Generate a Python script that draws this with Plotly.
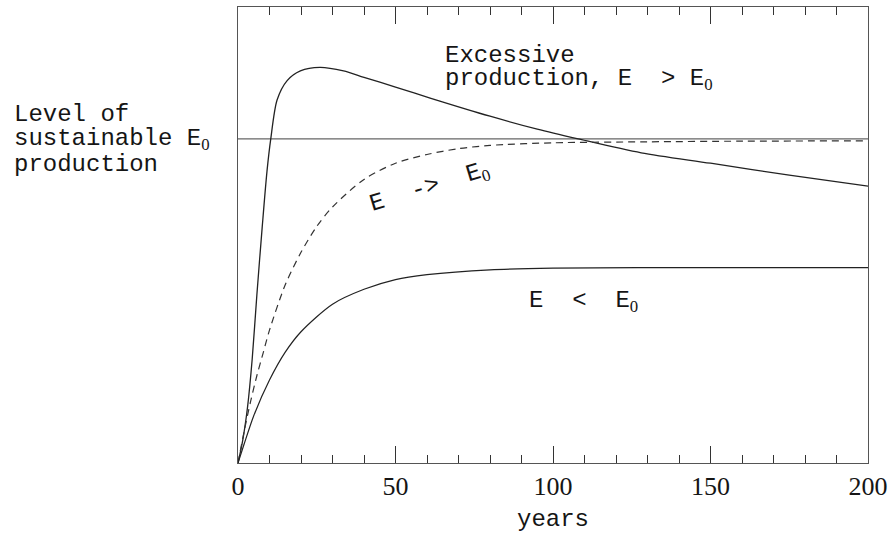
import plotly.graph_objects as go

# ---- data ----
years_excess = [0, 1.5, 3, 4.5, 6, 7.7, 9.2, 10.4, 12.4, 15.6, 19.8, 26, 33.5, 40, 50, 61, 80, 95, 108, 128, 150, 175, 200]
E_excess = [0, 0.07, 0.17, 0.32, 0.52, 0.73, 0.9, 1.0, 1.12, 1.18, 1.21, 1.221, 1.21, 1.19, 1.16, 1.126, 1.07, 1.03, 1.0, 0.957, 0.925, 0.888, 0.854]

years_approach = [0, 2, 4, 6, 8, 10, 15, 20, 25, 30, 40, 50, 60, 70, 80, 100, 130, 160, 200]
E_approach = [0, 0.10, 0.19, 0.27, 0.34, 0.41, 0.55, 0.65, 0.73, 0.79, 0.875, 0.925, 0.952, 0.97, 0.98, 0.988, 0.991, 0.993, 0.994]

years_low = [0, 2, 5, 10, 15, 20, 30, 40, 50, 60, 80, 100, 150, 200]
E_low = [0, 0.06, 0.146, 0.256, 0.342, 0.405, 0.49, 0.536, 0.566, 0.581, 0.596, 0.601, 0.603, 0.603]

years_E0 = [0, 200]
E0_level = [1.0, 1.0]

x_ticks = [0, 50, 100, 150, 200]

# ---- layout geometry ----
W, H = 893, 535
L, R, T, B = 238, 25, 7, 72
YMAX = 1.407
FONT = "Liberation Mono"
DIGIT_FONT = "Liberation Serif"
TXT = "#151515"

def px_to_paper(px, py):
    return (px - L) / (W - L - R), (H - B - py) / (H - T - B)

def sub0():
    return '<sub><span style="font-family:%s">0</span></sub>' % DIGIT_FONT

fig = go.Figure()
fig.add_trace(go.Scatter(x=years_E0, y=E0_level, mode="lines",
                         line=dict(color="#666666", width=1.4), hoverinfo="skip"))
fig.add_trace(go.Scatter(x=years_excess, y=E_excess, mode="lines",
                         line=dict(color="#222222", width=1.3, shape="spline", smoothing=0.8)))
fig.add_trace(go.Scatter(x=years_approach, y=E_approach, mode="lines",
                         line=dict(color="#333333", width=1.2, dash="7px,5px", shape="spline", smoothing=0.8)))
fig.add_trace(go.Scatter(x=years_low, y=E_low, mode="lines",
                         line=dict(color="#222222", width=1.2, shape="spline", smoothing=0.8)))

annos = []
def add_paper(text, px, py, xanchor="left", angle=0):
    xp, yp = px_to_paper(px, py)
    annos.append(dict(text=text, x=xp, y=yp, xref="paper", yref="paper",
                      xanchor=xanchor, yanchor="middle", showarrow=False,
                      textangle=angle, font=dict(family=FONT, size=24, color=TXT)))

add_paper("Level of", 12, 114)
add_paper("sustainable E" + sub0(), 12, 140)
add_paper("production", 12, 165)
add_paper("Excessive", 443, 55)
add_paper("production, E\u00a0\u00a0>\u00a0E" + sub0(), 443, 79)
add_paper("E\u00a0\u00a0->\u00a0\u00a0E" + sub0(), 430, 188, xanchor="center", angle=-17)
add_paper("E\u00a0\u00a0<\u00a0\u00a0E" + sub0(), 583, 301, xanchor="center")

fig.update_layout(
    width=W, height=H,
    margin=dict(l=L, r=R, t=T, b=B, autoexpand=False),
    paper_bgcolor="white", plot_bgcolor="white",
    showlegend=False,
    annotations=annos,
    font=dict(family=FONT, size=24, color=TXT),
)
fig.update_xaxes(
    range=[0, 200], tickvals=x_ticks, ticktext=[str(v) for v in x_ticks],
    ticks="inside", ticklen=17, tickwidth=1, tickcolor="#333333",
    minor=dict(dtick=10, tick0=0, ticks="inside", ticklen=8, tickwidth=1, tickcolor="#333333", showgrid=False),
    showline=True, linecolor="#555555", linewidth=1, mirror="allticks",
    showgrid=False, zeroline=False, automargin=False,
    tickfont=dict(family=DIGIT_FONT, size=26, color=TXT),
    title=dict(text="years", font=dict(family=FONT, size=24, color=TXT), standoff=8),
)
fig.update_yaxes(
    range=[0, YMAX], showticklabels=False, ticks="",
    showline=True, linecolor="#555555", linewidth=1, mirror=True,
    showgrid=False, zeroline=False, automargin=False,
)

fig.write_html("out.html", config={"displayModeBar": False},
               post_script="document.body.style.margin='0px';")
